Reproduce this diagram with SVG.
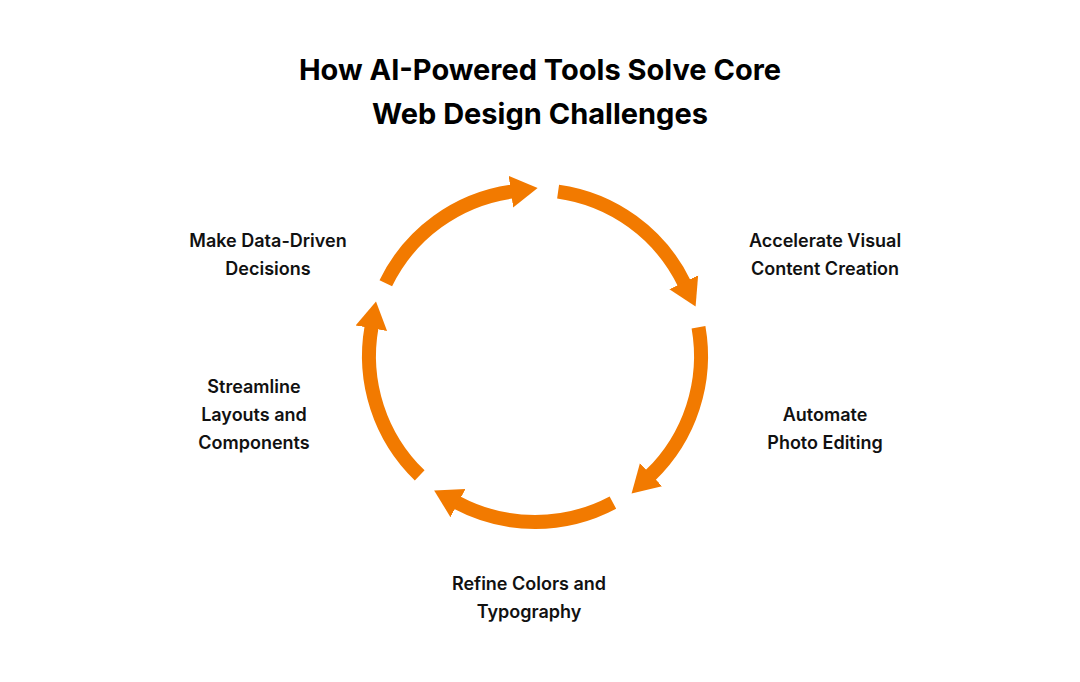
<svg xmlns="http://www.w3.org/2000/svg" width="1080" height="682" viewBox="0 0 1080 682">
<style>
.t{font-family:Inter,"Noto Sans",sans-serif;font-weight:700;font-size:29px;fill:#000;text-anchor:middle}
.l{font-family:Inter,"Noto Sans",sans-serif;font-weight:600;font-size:18px;fill:#111;text-anchor:middle}
.a{fill:none;stroke:#F27A00;stroke-width:14;marker-end:url(#h)}
</style>
<defs>
<marker id="h" markerUnits="userSpaceOnUse" markerWidth="30" markerHeight="34" viewBox="0 -17 30 34" refX="1" refY="0" orient="auto">
<polygon points="0,-16 27,0 0,16" fill="#F27A00"/>
</marker>
</defs>
<rect width="1080" height="682" fill="#fff"/>
<text class="t" x="540" y="80">How AI-Powered Tools Solve Core</text>
<text class="t" x="540" y="124">Web Design Challenges</text>
<g id="connectors">
<path class="a" d="M385.8,283.2 A166,166 0 0 1 511.9,191.6"/>
<path class="a" d="M558.1,191.6 A166,166 0 0 1 684.2,283.2"/>
<path class="a" d="M698.5,327.2 A166,166 0 0 1 650.3,475.4"/>
<path class="a" d="M612.9,502.6 A166,166 0 0 1 457.1,502.6"/>
<path class="a" d="M419.7,475.4 A166,166 0 0 1 371.5,327.2"/>
</g>
<g id="n1"><text class="l" x="268" y="247">Make Data-Driven</text><text class="l" x="268" y="275">Decisions</text></g>
<g id="n2"><text class="l" x="825" y="247">Accelerate Visual</text><text class="l" x="825" y="275">Content Creation</text></g>
<g id="n3"><text class="l" x="825" y="421">Automate</text><text class="l" x="825" y="449">Photo Editing</text></g>
<g id="n4"><text class="l" x="529" y="590">Refine Colors and</text><text class="l" x="529" y="618">Typography</text></g>
<g id="n5"><text class="l" x="254" y="393">Streamline</text><text class="l" x="254" y="421">Layouts and</text><text class="l" x="254" y="449">Components</text></g>
</svg>
